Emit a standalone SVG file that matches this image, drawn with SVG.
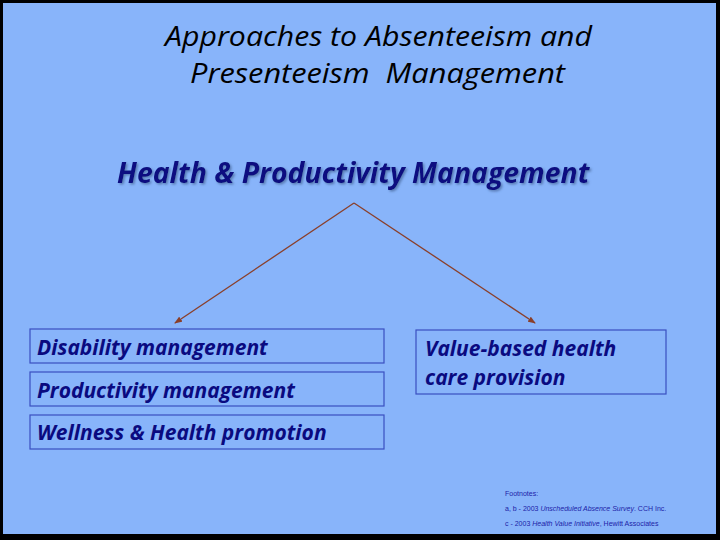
<svg xmlns="http://www.w3.org/2000/svg" width="720" height="540" viewBox="0 0 720 540">
<style>
.title{font-family:"Open Sans","Liberation Sans",sans-serif;font-style:italic;font-size:27px;fill:#000;white-space:pre}
.sub{font-family:"Open Sans","Liberation Sans",sans-serif;font-style:italic;font-weight:bold;font-size:28.4px;fill:#0a0a80}
.box{fill:none;stroke:#3a4fc0;stroke-width:1.2}
.lbl{font-family:"Open Sans","Liberation Sans",sans-serif;font-style:italic;font-weight:bold;font-size:21px;fill:#0a0a80}
.fn{font-family:"Liberation Sans",sans-serif;font-size:7px;fill:#1c22a8}
.conn{stroke:#8a3f2a;stroke-width:1.3;fill:none;marker-end:url(#ah)}
</style>
<defs>
<marker id="ah" markerWidth="8" markerHeight="6" refX="7" refY="3" orient="auto" markerUnits="userSpaceOnUse">
<path d="M0,0 L8,3 L0,6 z" fill="#8a3f2a"/>
</marker>
<filter id="sh" x="-5%" y="-20%" width="110%" height="140%">
<feDropShadow dx="1.5" dy="1.5" stdDeviation="0.8" flood-color="#4a6aa0" flood-opacity="0.8"/>
</filter>
</defs>
<rect x="0" y="0" width="720" height="540" fill="#000"/>
<rect x="3" y="3" width="713" height="531" fill="#88b4fa"/>
<g id="title">
<text class="title" x="165" y="46" textLength="427" lengthAdjust="spacingAndGlyphs">Approaches to Absenteeism and</text>
<text class="title" x="190" y="83" xml:space="preserve" textLength="375" lengthAdjust="spacingAndGlyphs">Presenteeism  Management</text>
</g>
<g id="hpm">
<text class="sub" x="117" y="183" filter="url(#sh)">Health &amp; Productivity Management</text>
</g>
<g id="connectors">
<line class="conn" x1="354" y1="203" x2="175" y2="323"/>
<line class="conn" x1="354" y1="203" x2="535" y2="323"/>
</g>
<g id="disability">
<rect class="box" x="30" y="329" width="354" height="34"/>
<text class="lbl" x="37" y="355">Disability management</text>
</g>
<g id="productivity">
<rect class="box" x="30" y="372" width="354" height="34"/>
<text class="lbl" x="37" y="398">Productivity management</text>
</g>
<g id="wellness">
<rect class="box" x="30" y="415" width="354" height="34"/>
<text class="lbl" x="37" y="440">Wellness &amp; Health promotion</text>
</g>
<g id="valuebased">
<rect class="box" x="416" y="330" width="250" height="64"/>
<text class="lbl" x="425" y="356">Value-based health</text>
<text class="lbl" x="425" y="385">care provision</text>
</g>
<g id="footnotes">
<text class="fn" x="505" y="496">Footnotes:</text>
<text class="fn" x="505" y="511">a, b - 2003 <tspan font-style="italic">Unscheduled Absence Survey</tspan>. CCH Inc.</text>
<text class="fn" x="505" y="526">c - 2003 <tspan font-style="italic">Health Value Initiative</tspan>, Hewitt Associates</text>
</g>
</svg>
